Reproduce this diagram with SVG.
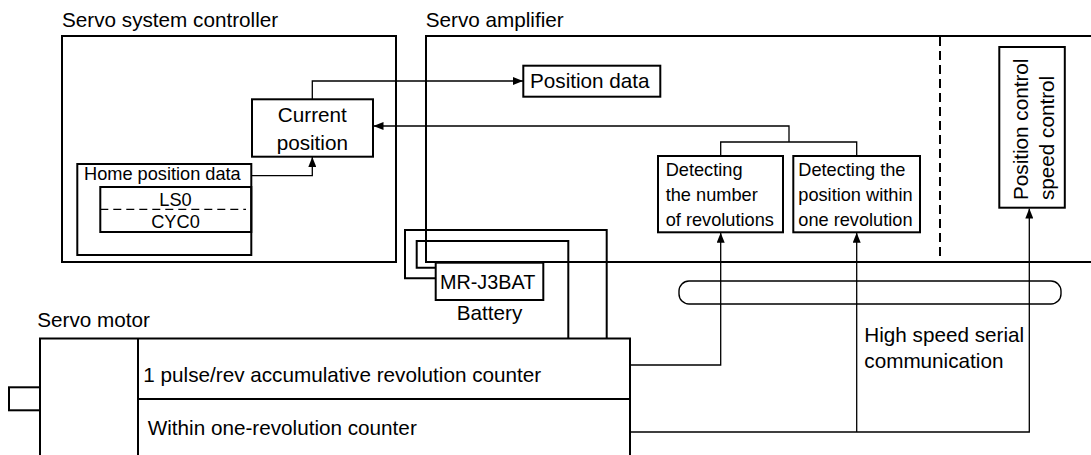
<svg xmlns="http://www.w3.org/2000/svg" width="1091" height="455" viewBox="0 0 1091 455">
<defs>
<style>
text{font-family:"Liberation Sans",Arial,sans-serif;fill:#000}
.lbl{font-size:20.7px}
.sm{font-size:18.2px}
.box{fill:#fff;stroke:#000;stroke-width:2}
.bx{fill:none;stroke:#000;stroke-width:2}
.wire{fill:none;stroke:#000;stroke-width:2}
.con{fill:none;stroke:#000;stroke-width:1.3}
.dash{fill:none;stroke:#000;stroke-width:2;stroke-dasharray:9 5}
.dash2{fill:none;stroke:#000;stroke-width:1.2;stroke-dasharray:8 5}
</style>
<marker id="ah" viewBox="0 0 10 8" refX="10" refY="4" markerWidth="10" markerHeight="8" markerUnits="userSpaceOnUse" orient="auto">
<path d="M0,0 L10,4 L0,8 z" fill="#000"/>
</marker>
</defs>

<g id="controller">
<rect class="bx" x="62" y="36" width="334" height="226"/>
<text class="lbl" x="62" y="26.5">Servo system controller</text>
</g>

<g id="amplifier">
<path class="bx" d="M1095,36 H426 V262 H1095"/>
<text class="lbl" x="425.7" y="26.5">Servo amplifier</text>
<line class="dash" x1="940" y1="37" x2="940" y2="261"/>
</g>

<g id="current-position">
<rect class="box" x="252" y="99.3" width="121" height="57.4"/>
<text class="lbl" x="312.3" y="121.5" text-anchor="middle">Current</text>
<text class="lbl" x="312.3" y="150" text-anchor="middle">position</text>
</g>

<g id="home-position-data">
<rect class="box" x="77.3" y="164" width="174" height="91"/>
<rect class="bx" x="100.3" y="187" width="151" height="45"/>
<line class="dash2" x1="100.3" y1="209.3" x2="246" y2="209.3"/>
<text class="sm" x="84" y="180">Home position data</text>
<text class="sm" x="175.5" y="205.5" text-anchor="middle">LS0</text>
<text class="sm" x="175.5" y="227.5" text-anchor="middle">CYC0</text>
</g>

<g id="position-data">
<rect class="box" x="523.3" y="65.7" width="137" height="31"/>
<text class="lbl" x="530" y="88">Position data</text>
</g>

<g id="detect-revolutions">
<rect class="box" x="658" y="156" width="125" height="76.3"/>
<text class="sm" x="665.7" y="175.5">Detecting</text>
<text class="sm" x="665.7" y="201">the number</text>
<text class="sm" x="665.7" y="226">of revolutions</text>
</g>

<g id="detect-position">
<rect class="box" x="793.3" y="156" width="126.7" height="76.3"/>
<text class="sm" x="798.3" y="175.5">Detecting the</text>
<text class="sm" x="798.3" y="201">position within</text>
<text class="sm" x="798.3" y="226">one revolution</text>
</g>

<g id="position-control">
<rect class="box" x="999.3" y="47" width="65.5" height="160.7"/>
<text class="lbl" transform="translate(1028,200) rotate(-90)">Position control</text>
<text class="lbl" transform="translate(1054,200) rotate(-90)">speed control</text>
</g>

<g id="battery">
<rect class="box" x="435.7" y="262.7" width="107.6" height="37.3"/>
<text x="440" y="289" style="font-size:19.8px">MR-J3BAT</text>
<text class="lbl" x="456.7" y="320">Battery</text>
</g>

<g id="servo-motor">
<rect class="bx" x="9" y="387.3" width="31" height="23"/>
<path class="bx" d="M40,462 V338.5 H630 V462"/>
<line class="bx" x1="138" y1="338.5" x2="138" y2="462"/>
<line class="bx" x1="138" y1="399" x2="630" y2="399"/>
<text class="lbl" x="37.3" y="327.3">Servo motor</text>
<text class="lbl" x="143.3" y="382">1 pulse/rev accumulative revolution counter</text>
<text class="lbl" x="147.7" y="435">Within one-revolution counter</text>
</g>

<g id="serial-bus">
<rect x="679" y="281" width="382" height="23" rx="10" ry="10" fill="none" stroke="#000" stroke-width="1.4"/>
<text class="lbl" x="864.3" y="342">High speed serial</text>
<text class="lbl" x="864.3" y="368">communication</text>
</g>

<g id="connectors">
<path class="con" d="M312.3,99.3 V81 H523" marker-end="url(#ah)"/>
<path class="con" d="M251.3,175.7 H312.3 V157" marker-end="url(#ah)"/>
<path class="con" d="M789,142 V126 H373.5" marker-end="url(#ah)"/>
<path class="con" d="M720.7,156 V142 H856.7 V156"/>
<path class="con" d="M630,365 H720.7 V232.7" marker-end="url(#ah)"/>
<path class="con" d="M630,432 H1029.3 V208.5" marker-end="url(#ah)"/>
<path class="con" d="M856.7,432 V232.7" marker-end="url(#ah)"/>
<path class="wire" d="M435.7,278.3 H405 V230 H606.7 V338.5"/>
<path class="wire" d="M435.7,267.7 H416.7 V241 H568.3 V338.5"/>
</g>
</svg>
